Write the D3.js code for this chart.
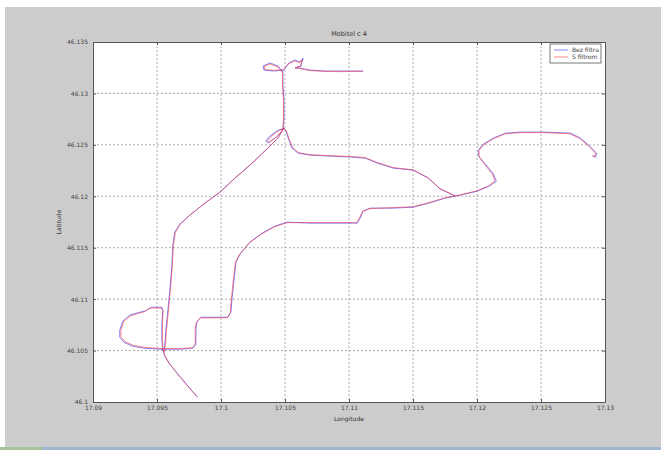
<!DOCTYPE html>
<html>
<head>
<meta charset="utf-8">
<script src="https://cdn.jsdelivr.net/npm/d3@7"></script>
<style>
  html, body { margin: 0; padding: 0; background: #fff; }
  svg { display: block; }
  text { font-family: "DejaVu Sans", sans-serif; }
</style>
</head>
<body>
<div id="chart"></div>
<script>
const chartTitle = 'Mobitel c 4'
const seriesNames = ['Bez filtra', 'S filtrom']
const seriesColors = ['#3a3aff', '#ff3a3a']
const xTicks = [17.09, 17.095, 17.1, 17.105, 17.11, 17.115, 17.12, 17.125, 17.13]
const yTicks = [46.1, 46.105, 46.11, 46.115, 46.12, 46.125, 46.13, 46.135]

// raw GPS fixes [lon, lat], null = break between pieces of the track
const rawTrack = [
  [17.09819, 46.10046], [17.09757, 46.10133], [17.09678, 46.10250], [17.09600, 46.10367],
  [17.09561, 46.10445], [17.09545, 46.10503], [17.09538, 46.10600], [17.09538, 46.10746],
  [17.09545, 46.10892], [17.09538, 46.10921], [17.09459, 46.10921], [17.09428, 46.10902],
  [17.09405, 46.10883], [17.09365, 46.10873], [17.09287, 46.10844], [17.09232, 46.10785],
  [17.09209, 46.10698], [17.09209, 46.10630], [17.09240, 46.10581], [17.09311, 46.10542],
  [17.09405, 46.10523], [17.09522, 46.10513], [17.09678, 46.10513], [17.09780, 46.10523],
  [17.09804, 46.10561], [17.09804, 46.10698], [17.09811, 46.10776], [17.09843, 46.10824],
  [17.09952, 46.10824], [17.10054, 46.10824], [17.10078, 46.10873], [17.10085, 46.10990],
  [17.10101, 46.11184], [17.10117, 46.11359], [17.10148, 46.11437], [17.10226, 46.11554],
  [17.10320, 46.11641], [17.10422, 46.11710], [17.10516, 46.11749], [17.10696, 46.11739],
  [17.10930, 46.11739], [17.11064, 46.11739], [17.11087, 46.11787], [17.11110, 46.11856],
  [17.11165, 46.11885], [17.11345, 46.11885], [17.11502, 46.11894], [17.11596, 46.11924],
  [17.11752, 46.11982], [17.11869, 46.12011], [17.12003, 46.12050], [17.12096, 46.12099],
  [17.12151, 46.12147], [17.12128, 46.12216], [17.12065, 46.12313], [17.12010, 46.12391],
  [17.12010, 46.12449], [17.12049, 46.12507], [17.12128, 46.12566], [17.12222, 46.12614],
  [17.12339, 46.12624], [17.12535, 46.12624], [17.12730, 46.12614], [17.12808, 46.12566],
  [17.12871, 46.12498], [17.12934, 46.12420], [17.12926, 46.12381], [17.12902, 46.12391],
  null,
  [17.11830, 46.12001], [17.11713, 46.12070], [17.11619, 46.12177], [17.11502, 46.12254],
  [17.11345, 46.12274], [17.11220, 46.12323], [17.11126, 46.12371], [17.11024, 46.12381],
  [17.10852, 46.12391], [17.10696, 46.12400], [17.10602, 46.12420], [17.10555, 46.12469],
  [17.10531, 46.12546], [17.10508, 46.12634], [17.10492, 46.12663], [17.10437, 46.12634],
  [17.10383, 46.12585], [17.10351, 46.12537], [17.10367, 46.12517], [17.10422, 46.12566],
  [17.10484, 46.12644], [17.10492, 46.12741], [17.10492, 46.12936], [17.10484, 46.13082],
  [17.10484, 46.13208], [17.10445, 46.13266], [17.10383, 46.13296], [17.10328, 46.13266],
  [17.10336, 46.13227], [17.10414, 46.13218], [17.10492, 46.13227], [17.10531, 46.13296],
  [17.10578, 46.13325], [17.10617, 46.13305], [17.10641, 46.13344], [17.10625, 46.13266],
  [17.10578, 46.13247], [17.10617, 46.13247], [17.10696, 46.13227], [17.10813, 46.13218],
  [17.10930, 46.13218], [17.11009, 46.13218], [17.11110, 46.13218],
  null,
  [17.10492, 46.12663], [17.10445, 46.12566], [17.10367, 46.12469], [17.10226, 46.12303],
  [17.10109, 46.12177], [17.09991, 46.12040], [17.09874, 46.11933], [17.09757, 46.11817],
  [17.09678, 46.11729], [17.09639, 46.11651], [17.09624, 46.11525], [17.09616, 46.11330],
  [17.09600, 46.11087], [17.09585, 46.10892], [17.09569, 46.10698], [17.09561, 46.10552],
  [17.09553, 46.10484]
]

// filtered track [lon, lat]
const filteredTrack = [
  [17.09812, 46.10052], [17.09750, 46.10138], [17.09672, 46.10255], [17.09598, 46.10370],
  [17.09563, 46.10447], [17.09548, 46.10505], [17.09542, 46.10600], [17.09542, 46.10746],
  [17.09548, 46.10885], [17.09536, 46.10912], [17.09462, 46.10914], [17.09432, 46.10905],
  [17.09405, 46.10878], [17.09365, 46.10866], [17.09292, 46.10838], [17.09240, 46.10782],
  [17.09218, 46.10698], [17.09218, 46.10634], [17.09248, 46.10588], [17.09316, 46.10550],
  [17.09408, 46.10530], [17.09522, 46.10520], [17.09678, 46.10518], [17.09776, 46.10528],
  [17.09798, 46.10565], [17.09798, 46.10698], [17.09806, 46.10772], [17.09840, 46.10818],
  [17.09952, 46.10818], [17.10050, 46.10820], [17.10072, 46.10870], [17.10080, 46.10990],
  [17.10096, 46.11184], [17.10112, 46.11356], [17.10144, 46.11432], [17.10222, 46.11548],
  [17.10318, 46.11635], [17.10420, 46.11704], [17.10516, 46.11743], [17.10696, 46.11745],
  [17.10930, 46.11745], [17.11060, 46.11744], [17.11082, 46.11790], [17.11106, 46.11852],
  [17.11165, 46.11880], [17.11345, 46.11890], [17.11502, 46.11899], [17.11596, 46.11928],
  [17.11752, 46.11986], [17.11869, 46.12014], [17.12000, 46.12053], [17.12090, 46.12102],
  [17.12140, 46.12150], [17.12120, 46.12216], [17.12060, 46.12310], [17.12016, 46.12388],
  [17.12016, 46.12446], [17.12054, 46.12502], [17.12130, 46.12560], [17.12222, 46.12608],
  [17.12339, 46.12619], [17.12535, 46.12619], [17.12726, 46.12608], [17.12802, 46.12562],
  [17.12866, 46.12494], [17.12926, 46.12420], [17.12920, 46.12385], [17.12902, 46.12395],
  null,
  [17.11830, 46.12005], [17.11710, 46.12076], [17.11615, 46.12182], [17.11500, 46.12258],
  [17.11345, 46.12279], [17.11222, 46.12328], [17.11128, 46.12376], [17.11024, 46.12386],
  [17.10852, 46.12395], [17.10696, 46.12404], [17.10606, 46.12424], [17.10560, 46.12472],
  [17.10536, 46.12548], [17.10510, 46.12636], [17.10492, 46.12660], [17.10440, 46.12628],
  [17.10392, 46.12582], [17.10362, 46.12540], [17.10375, 46.12524], [17.10426, 46.12568],
  [17.10482, 46.12640], [17.10488, 46.12741], [17.10488, 46.12936], [17.10480, 46.13082],
  [17.10480, 46.13205], [17.10442, 46.13258], [17.10383, 46.13286], [17.10338, 46.13262],
  [17.10344, 46.13232], [17.10414, 46.13224], [17.10488, 46.13232], [17.10528, 46.13288],
  [17.10578, 46.13315], [17.10612, 46.13298], [17.10634, 46.13330], [17.10620, 46.13266],
  [17.10580, 46.13250], [17.10617, 46.13242], [17.10696, 46.13222], [17.10813, 46.13214],
  [17.10930, 46.13212], [17.11009, 46.13214], [17.11110, 46.13214],
  null,
  [17.10488, 46.12660], [17.10442, 46.12562], [17.10364, 46.12466], [17.10224, 46.12300],
  [17.10108, 46.12175], [17.09990, 46.12038], [17.09872, 46.11931], [17.09755, 46.11815],
  [17.09680, 46.11726], [17.09643, 46.11648], [17.09628, 46.11525], [17.09620, 46.11330],
  [17.09605, 46.11087], [17.09590, 46.10892], [17.09574, 46.10698], [17.09566, 46.10552],
  [17.09556, 46.10484]
]

const width = 661
const height = 450
const margin = { top: 42, right: 56, bottom: 48, left: 93 }
const innerW = 605 - margin.left
const innerH = 402 - margin.top

const svg = d3.select('#chart').append('svg')
  .attr('width', width)
  .attr('height', height)

// figure background
svg.append('rect').attr('x', 0).attr('y', 0).attr('width', width).attr('height', height).attr('fill', '#ffffff')
svg.append('rect').attr('x', 5).attr('y', 7).attr('width', width - 5).attr('height', height - 10).attr('fill', '#cccccc')
svg.append('rect').attr('x', 0).attr('y', height - 3).attr('width', width).attr('height', 3).attr('fill', '#9fb4d0')
svg.append('rect').attr('x', 0).attr('y', height - 3).attr('width', 42).attr('height', 3).attr('fill', '#a8c49a')

const x = d3.scaleLinear().domain([17.09, 17.13]).range([0, innerW])
const y = d3.scaleLinear().domain([46.1, 46.135]).range([innerH, 0])

const g = svg.append('g').attr('transform', 'translate(' + margin.left + ',' + margin.top + ')')

g.append('rect').attr('width', innerW).attr('height', innerH).attr('fill', '#ffffff')

// grid
g.append('g').selectAll('line')
  .data(xTicks.slice(1, -1))
  .enter().append('line')
  .attr('x1', (d) => x(d)).attr('x2', (d) => x(d))
  .attr('y1', 0).attr('y2', innerH)
  .attr('stroke', '#999').attr('stroke-width', 0.8).attr('stroke-dasharray', '2,2')
g.append('g').selectAll('line')
  .data(yTicks.slice(1, -1))
  .enter().append('line')
  .attr('y1', (d) => y(d)).attr('y2', (d) => y(d))
  .attr('x1', 0).attr('x2', innerW)
  .attr('stroke', '#999').attr('stroke-width', 0.8).attr('stroke-dasharray', '2,2')

const fmt = (d) => String(+d.toFixed(3))

// axes, ticks pointing inward like matlab
const xAxis = g.append('g').attr('transform', 'translate(0,' + innerH + ')')
  .call(d3.axisBottom(x).tickValues(xTicks).tickFormat(fmt).tickSizeInner(-3).tickSizeOuter(0).tickPadding(4))
const xAxisTop = g.append('g')
  .call(d3.axisTop(x).tickValues(xTicks).tickFormat('').tickSizeInner(-3).tickSizeOuter(0))
const yAxis = g.append('g')
  .call(d3.axisLeft(y).tickValues(yTicks).tickFormat(fmt).tickSizeInner(-3).tickSizeOuter(0).tickPadding(5))
const yAxisRight = g.append('g').attr('transform', 'translate(' + innerW + ',0)')
  .call(d3.axisRight(y).tickValues(yTicks).tickFormat('').tickSizeInner(-3).tickSizeOuter(0))

;[xAxis, xAxisTop, yAxis, yAxisRight].forEach((a) => {
  a.select('.domain').attr('stroke', '#555')
  a.selectAll('.tick line').attr('stroke', '#555')
  a.selectAll('text').attr('fill', '#444').style('font-size', '6px')
})

// tracks
const line = d3.line()
  .defined((d) => d !== null)
  .x((d) => x(d[0]))
  .y((d) => y(d[1]))

;[rawTrack, filteredTrack].forEach((track, i) => {
  g.append('path')
    .datum(track)
    .attr('fill', 'none')
    .attr('stroke', seriesColors[i])
    .attr('stroke-width', 1)
    .attr('stroke-opacity', i === 0 ? 0.65 : 0.6)
    .attr('stroke-linejoin', 'round')
    .attr('d', line)
})

// title and labels
svg.append('text')
  .attr('x', margin.left + innerW / 2).attr('y', 36)
  .attr('text-anchor', 'middle')
  .attr('fill', '#333').style('font-size', '6.5px')
  .text(chartTitle)
svg.append('text')
  .attr('x', margin.left + innerW / 2).attr('y', 421)
  .attr('text-anchor', 'middle')
  .attr('fill', '#333').style('font-size', '6px')
  .text('Longitude')
svg.append('text')
  .attr('transform', 'translate(61,' + (margin.top + innerH / 2) + ') rotate(-90)')
  .attr('text-anchor', 'middle')
  .attr('fill', '#333').style('font-size', '6px')
  .text('Latitude')

// legend
const legend = g.append('g').attr('transform', 'translate(' + (innerW - 55) + ',2)')
legend.append('rect')
  .attr('width', 51).attr('height', 19)
  .attr('fill', '#fff').attr('stroke', '#555').attr('stroke-width', 0.8)
seriesNames.forEach((name, i) => {
  legend.append('line')
    .attr('x1', 4).attr('x2', 18)
    .attr('y1', 6 + i * 7).attr('y2', 6 + i * 7)
    .attr('stroke', seriesColors[i]).attr('stroke-opacity', 0.6)
  legend.append('text')
    .attr('x', 22).attr('y', 8.3 + i * 7)
    .attr('fill', '#444').style('font-size', '6px')
    .text(name)
})
</script>
</body>
</html>
